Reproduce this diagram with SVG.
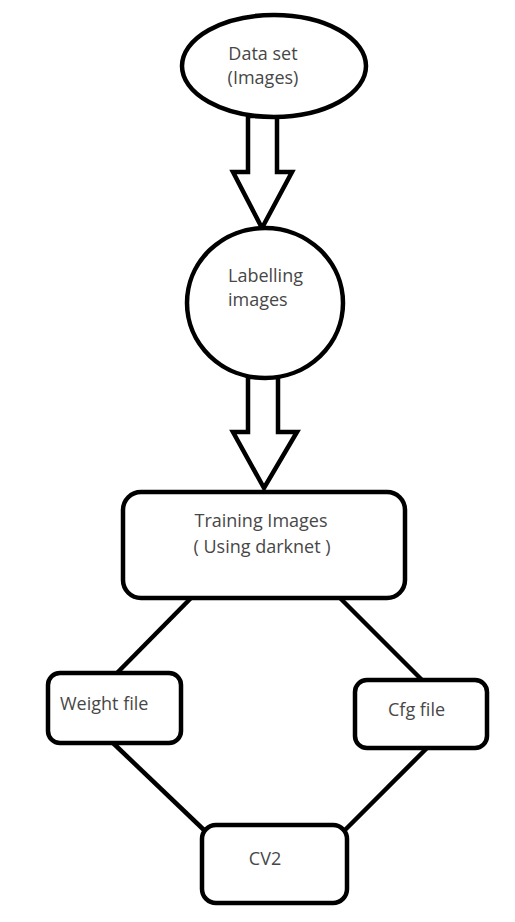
<svg xmlns="http://www.w3.org/2000/svg" width="515" height="922" viewBox="0 0 515 922">
<style>
.shape{fill:#fff;stroke:#000;stroke-width:4.5}
.conn{fill:none;stroke:#000;stroke-width:4.5}
.arrow{fill:#fff;stroke:#000;stroke-width:4.5;stroke-linejoin:miter}
text{font-family:"Open Sans","Noto Sans","Liberation Sans",sans-serif;font-size:18px;fill:#474747}
</style>
<rect width="515" height="922" fill="#fff"/>
<g id="connectors">
<polygon class="arrow" points="248,116 248,172 233,172 262,228 292,172 277,172 277,116"/>
<polygon class="arrow" points="248,377 248,432 233,432 264,488 297,432 278,432 278,377"/>
<line class="conn" x1="193" y1="596" x2="117" y2="673"/>
<line class="conn" x1="338" y1="596" x2="422" y2="680"/>
<line class="conn" x1="113" y1="743" x2="204" y2="830"/>
<line class="conn" x1="428" y1="747" x2="345" y2="830"/>
</g>
<g id="dataset">
<ellipse class="shape" cx="274" cy="66" rx="92" ry="51"/>
<text x="263" y="60" text-anchor="middle">Data set</text>
<text x="263" y="84" text-anchor="middle">(Images)</text>
</g>
<g id="labelling">
<ellipse class="shape" cx="265" cy="303" rx="78" ry="75"/>
<text x="228" y="282">Labelling</text>
<text x="228" y="306">images</text>
</g>
<g id="training">
<rect class="shape" x="123" y="492" width="282" height="106" rx="18"/>
<text x="261" y="527" text-anchor="middle">Training Images</text>
<text x="262" y="553" text-anchor="middle">( Using darknet )</text>
</g>
<g id="weight">
<rect class="shape" x="48" y="673" width="133" height="70" rx="12"/>
<text x="60" y="710">Weight file</text>
</g>
<g id="cfg">
<rect class="shape" x="355" y="680" width="132" height="68" rx="12"/>
<text x="388" y="716">Cfg file</text>
</g>
<g id="cv2">
<rect class="shape" x="202" y="825" width="145" height="78" rx="14"/>
<text x="265" y="865" text-anchor="middle">CV2</text>
</g>
</svg>
